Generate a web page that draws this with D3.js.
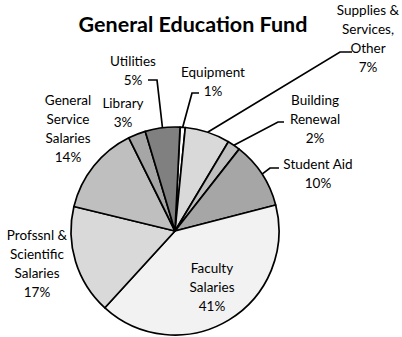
<!DOCTYPE html>
<meta charset="utf-8">
<script src="https://d3js.org/d3.v7.min.js"></script>
<style>
  body { margin: 0; background: #fff; }
  text { font-family: Lato, "Open Sans", sans-serif; fill: #000; }
</style>
<div id="chart"></div>

<script>
// slices, clockwise from the top
const categories = ["Equipment", "Supplies & Services, Other", "Building Renewal", "Student Aid",
                    "Faculty Salaries", "Profssnl & Scientific Salaries", "General Service Salaries",
                    "Library", "Utilities"]
const values = [0.8, 7.0, 2.0, 10.4, 40.8, 17.0, 13.9, 2.7, 5.4]
const labelLines = [["Equipment"], ["Supplies &", "Services,", "Other"], ["Building", "Renewal"],
                    ["Student Aid"], ["Faculty", "Salaries"], ["Profssnl &", "Scientific", "Salaries"],
                    ["General", "Service", "Salaries"], ["Library"], ["Utilities"]]

const width = 402
const height = 337
const cx = 175, cy = 231, radius = 104

const color = d3.scaleOrdinal()
                .domain(categories)
                .range(["#ffffff", "#d9d9d9", "#bfbfbf", "#a6a6a6", "#f2f2f2",
                        "#d9d9d9", "#bfbfbf", "#a6a6a6", "#808080"])

// where each label sits (offset from pie centre) and its leader line, if any
const labelLayout = {
    "Equipment":                     {x: 38,   y: -159, elbow: [17, -138],  end: [24, -138]},
    "Supplies & Services, Other":    {x: 193,  y: -221, elbow: [165, -179], end: [177, -179]},
    "Building Renewal":              {x: 140,  y: -131, elbow: [103, -109], end: [109, -109]},
    "Student Aid":                   {x: 143,  y: -67,  elbow: [95, -63],   end: [104, -63]},
    "Faculty Salaries":              {x: 37,   y: 37},
    "Profssnl & Scientific Salaries":{x: -138, y: 4},
    "General Service Salaries":      {x: -107, y: -131},
    "Library":                       {x: -52,  y: -128},
    "Utilities":                     {x: -42,  y: -170, elbow: [-18, -151], end: [-27, -151]}
}
const lineHeight = 19

const svg = d3.select("#chart")
              .append("svg")
              .attr("width", width)
              .attr("height", height)

svg.append("text")
    .attr("x", 193)
    .attr("y", 24)
    .attr("dy", "0.35em")
    .attr("text-anchor", "middle")
    .style("font-weight", "bold")
    .style("font-size", "21.5px")
    .text("General Education Fund")

const data = categories.map((c, i) => ({name: c, value: values[i], lines: labelLines[i]}))

const pie = d3.pie()
              .sort(null)
              .value(d => d.value)
              .startAngle(2.8 * Math.PI / 180)
              .endAngle(2.8 * Math.PI / 180 + 2 * Math.PI)

const arc = d3.arc().innerRadius(0).outerRadius(radius)
const edge = d3.arc().innerRadius(radius).outerRadius(radius)

const g = svg.append("g")
             .attr("transform", `translate(${cx}, ${cy})`)

const arcs = pie(data)

g.selectAll("path.slice")
    .data(arcs)
    .join("path")
        .attr("class", "slice")
        .attr("d", arc)
        .style("fill", d => color(d.data.name))
        .style("stroke", "#000")
        .style("stroke-width", 1.7)
        .style("stroke-linejoin", "round")

// leader lines
g.selectAll("polyline")
    .data(arcs.filter(d => labelLayout[d.data.name].elbow))
    .join("polyline")
        .attr("points", d => {
            const l = labelLayout[d.data.name]
            return [edge.centroid(d), l.elbow, l.end].map(p => p.join(",")).join(" ")
        })
        .style("fill", "none")
        .style("stroke", "#000")
        .style("stroke-width", 1.7)

// labels
const labels = g.selectAll("text.label")
    .data(arcs)
    .join("text")
        .attr("class", "label")
        .attr("text-anchor", "middle")
        .style("font-size", "13.5px")

labels.selectAll("tspan")
    .data(d => {
        const l = labelLayout[d.data.name]
        const pct = Math.round(d.data.value) + "%"
        return d.data.lines.concat([pct]).map((t, i) => ({t: t, x: l.x, y: l.y + i * lineHeight}))
    })
    .join("tspan")
        .attr("x", d => d.x)
        .attr("y", d => d.y)
        .attr("dy", "0.35em")
        .text(d => d.t)
</script>
